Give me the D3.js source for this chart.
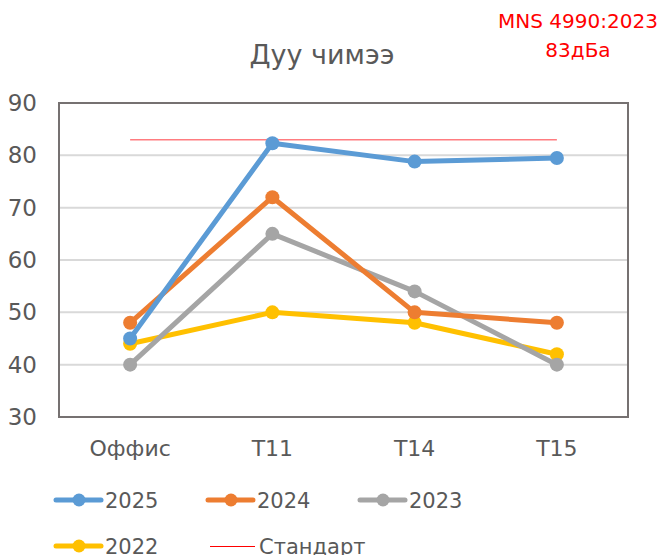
<!DOCTYPE html>
<html>
<head>
<meta charset="utf-8">
<script src="https://cdn.jsdelivr.net/npm/d3@7"></script>
<style>
  body { margin: 0; background: #fff; }
  text { font-family: "DejaVu Sans", sans-serif; fill: #595959; }
</style>
</head>
<body>
<svg id="chart" width="662" height="555"></svg>
<script>
// data
var categories = ["Оффис", "T11", "T14", "T15"];
var s2025 = [45, 82.3, 78.8, 79.5];
var s2024 = [48, 72, 50, 48];
var s2023 = [40, 65, 54, 40];
var s2022 = [44, 50, 48, 42];
var standard = 83;
var yTicks = [30, 40, 50, 60, 70, 80, 90];

var series = [
  { name: "2025", values: s2025, color: "#5b9bd5" },
  { name: "2024", values: s2024, color: "#ed7d31" },
  { name: "2023", values: s2023, color: "#a5a5a5" },
  { name: "2022", values: s2022, color: "#ffc000" }
];

var svg = d3.select("#chart");
var plotL = 59, plotR = 628, plotT = 103, plotB = 417;

var x = d3.scalePoint().domain(categories).range([plotL, plotR]).padding(0.5);
var y = d3.scaleLinear().domain([30, 90]).range([plotB, plotT]);

// gridlines
svg.append("g").selectAll("line")
  .data(yTicks.slice(1, -1))
  .enter().append("line")
  .attr("x1", plotL).attr("x2", plotR)
  .attr("y1", d => y(d)).attr("y2", d => y(d))
  .attr("stroke", "#d9d9d9").attr("stroke-width", 2);

// frame
svg.append("rect")
  .attr("x", plotL).attr("y", plotT)
  .attr("width", plotR - plotL).attr("height", plotB - plotT)
  .attr("fill", "none").attr("stroke", "#767171").attr("stroke-width", 2);

// y labels
svg.append("g").selectAll("text")
  .data(yTicks)
  .enter().append("text")
  .attr("x", 37).attr("y", d => y(d) + 8)
  .attr("text-anchor", "end")
  .style("font-size", "23px")
  .text(d => d);

// x labels
svg.append("g").selectAll("text")
  .data(categories)
  .enter().append("text")
  .attr("x", d => x(d)).attr("y", 456)
  .attr("text-anchor", "middle")
  .style("font-size", "22px")
  .text(d => d);

// standard line
svg.append("line")
  .attr("x1", x(categories[0])).attr("x2", x(categories[categories.length - 1]))
  .attr("y1", y(standard)).attr("y2", y(standard))
  .attr("stroke", "#ff7c80").attr("stroke-width", 1.5);

// series
var line = d3.line().x((d, i) => x(categories[i])).y(d => y(d));
series.slice().reverse().forEach(function (s) {
  var g = svg.append("g");
  g.append("path").datum(s.values)
    .attr("d", line).attr("fill", "none")
    .attr("stroke", s.color).attr("stroke-width", 5)
    .attr("stroke-linejoin", "round");
  g.selectAll("circle").data(s.values).enter().append("circle")
    .attr("cx", (d, i) => x(categories[i])).attr("cy", d => y(d))
    .attr("r", 7).attr("fill", s.color);
});

// title
svg.append("text")
  .attr("x", 322).attr("y", 64)
  .attr("text-anchor", "middle")
  .style("font-size", "27px")
  .text("Дуу чимээ");

// annotation
svg.append("text")
  .attr("x", 578).attr("y", 28)
  .attr("text-anchor", "middle")
  .style("font-size", "20px").style("fill", "#ff0000")
  .text("MNS 4990:2023");
svg.append("text")
  .attr("x", 578).attr("y", 57)
  .attr("text-anchor", "middle")
  .style("font-size", "20px").style("fill", "#ff0000")
  .text("83дБа");

// legend
var legendItems = [
  { name: "2025", color: "#5b9bd5", lx: 56, ly: 500, marker: true },
  { name: "2024", color: "#ed7d31", lx: 208, ly: 500, marker: true },
  { name: "2023", color: "#a5a5a5", lx: 360, ly: 500, marker: true },
  { name: "2022", color: "#ffc000", lx: 56, ly: 546, marker: true },
  { name: "Стандарт", color: "#ff0000", lx: 210, ly: 546, marker: false }
];
legendItems.forEach(function (it) {
  var g = svg.append("g");
  g.append("line")
    .attr("x1", it.lx).attr("x2", it.lx + 45)
    .attr("y1", it.marker ? it.ly : it.ly + 0.5).attr("y2", it.marker ? it.ly : it.ly + 0.5)
    .attr("stroke", it.color)
    .attr("stroke-width", it.marker ? 5 : 1)
    .attr("stroke-linecap", it.marker ? "round" : "butt");
  if (it.marker) {
    g.append("circle").attr("cx", it.lx + 23).attr("cy", it.ly)
      .attr("r", 6.5).attr("fill", it.color);
  }
  g.append("text")
    .attr("x", it.lx + 49).attr("y", it.ly + 8)
    .style("font-size", "21px")
    .text(it.name);
});
</script>
</body>
</html>
